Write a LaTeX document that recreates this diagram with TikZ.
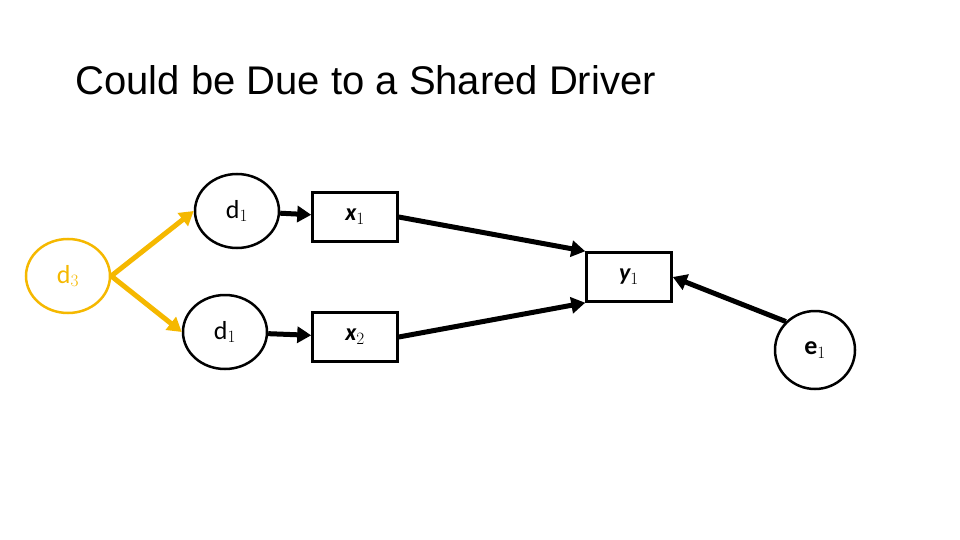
\documentclass[tikz,border=0pt]{standalone}
\usepackage{fontspec}
\setmainfont{Carlito}
\newfontfamily\titlefont{Liberation Sans}
\usetikzlibrary{shapes.geometric,arrows.meta}
\definecolor{gold}{HTML}{F5B800}
\begin{document}
\begin{tikzpicture}[x=1pt,y=-1pt,
  ell/.style={draw,line width=2.5pt,ellipse,minimum width=84pt,minimum height=74pt,inner sep=0pt,font=\fontsize{26}{28}\selectfont},
  box/.style={draw,line width=2.5pt,rectangle,minimum width=85pt,minimum height=49pt,inner sep=0pt,font=\bfseries\itshape\fontsize{24}{28}\selectfont},
  arr/.style={line width=5pt,-{Triangle[length=14pt,width=16pt]}}]
\useasboundingbox (0,0) rectangle (960,540);
\node[anchor=west,font=\titlefont\fontsize{40}{44}\selectfont] (title) at (72,80) {Could be Due to a Shared Driver};
\node[ell,draw=gold,text=gold] (d3) at (68,276) {d$_3$};
\node[ell] (d1a) at (237,211) {d$_1$};
\node[ell] (d1b) at (225,332) {d$_1$};
\node[box] (x1) at (355,217) {x$_1$};
\node[box] (x2) at (355,337) {x$_2$};
\node[box] (y1) at (629,277) {y$_1$};
\node[ell,minimum width=80pt,minimum height=78pt,font=\bfseries\fontsize{26}{28}\selectfont] (e1) at (815,350) {e$_1$};
\draw[arr,draw=gold,fill=gold,-{Triangle[length=14pt,width=16pt,fill=gold]}] (d3.east) -- (d1a.west);
\draw[arr,draw=gold,-{Triangle[length=14pt,width=16pt,fill=gold]}] (d3.east) -- (d1b.west);
\draw[arr] (d1a) -- (x1);
\draw[arr] (d1b) -- (x2);
\draw[arr] (x1.east) -- (y1.north west);
\draw[arr] (x2.east) -- (y1.south west);
\draw[arr] (e1.north west) -- (y1.east);
\end{tikzpicture}
\end{document}
